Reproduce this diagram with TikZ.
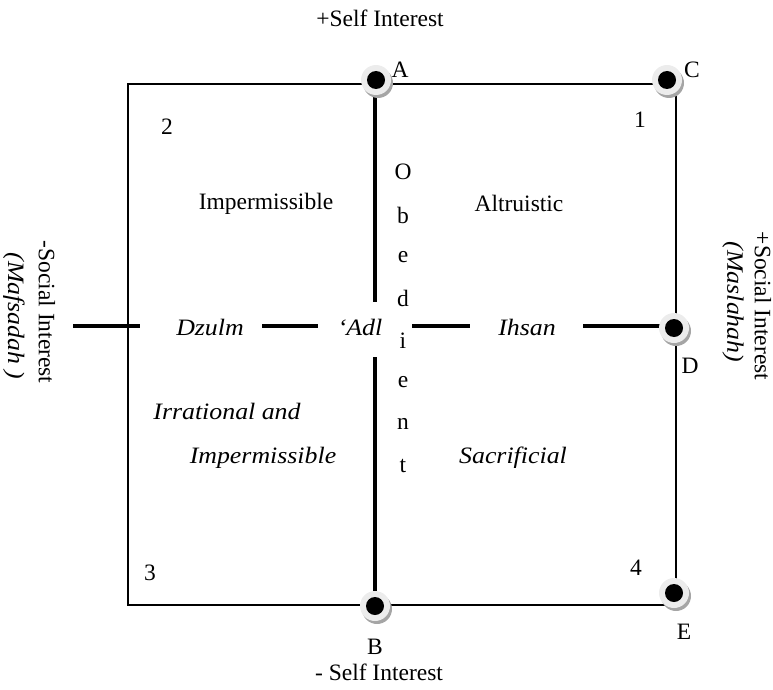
\documentclass[tikz,border=0pt]{standalone}
\usepackage{fontspec}
\setmainfont{Liberation Serif}
\newfontfamily\itfam[FakeStretch=1.1]{Liberation Serif Italic}
\usetikzlibrary{shadows}
\newcommand{\fsz}{\fontsize{23.5}{27}\selectfont}
\definecolor{ringc}{RGB}{236,236,236}
\definecolor{shadc}{RGB}{165,165,165}
\tikzset{
  boxline/.style={line width=1.4pt, draw=black},
  heavy/.style={line width=3.6pt, draw=black},
  txt/.style={font=\fsz, inner sep=0pt},
  itxt/.style={font=\fsz\itfam, inner sep=0pt},
  dotmark/.style={circle, fill=ringc, minimum size=30pt, inner sep=0pt,
    drop shadow={shadow xshift=2pt, shadow yshift=-3pt, fill=shadc, opacity=1},
    path picture={\fill[black] (path picture bounding box.center) circle (9pt);}},
}
\begin{document}
\begin{tikzpicture}[x=1pt,y=-1pt]
\useasboundingbox (0,0) rectangle (773,690);
% frame
\coordinate (tl) at (128,84);
\coordinate (br) at (676,605);
\draw[boxline] (tl) rectangle (br);
% anchor points for lines
\coordinate (vA) at (375,84);
\coordinate (vtop) at (375,302);
\coordinate (vbot) at (375,357);
\coordinate (vB) at (375,605);
\coordinate (h0) at (73,326);
\coordinate (h1) at (140,326);
\coordinate (h2) at (262,326);
\coordinate (h3) at (318,326);
\coordinate (h4) at (412,326);
\coordinate (h5) at (470,326);
\coordinate (h6) at (583,326);
\coordinate (h7) at (674,326);
\draw[heavy] (vA) -- (vtop);
\draw[heavy] (vbot) -- (vB);
\draw[heavy] (h0) -- (h1);
\draw[heavy] (h2) -- (h3);
\draw[heavy] (h4) -- (h5);
\draw[heavy] (h6) -- (h7);
% dots
\node[dotmark] (A) at (376,80) {};
\node[dotmark] (C) at (667,80) {};
\node[dotmark] (D) at (674,328) {};
\node[dotmark] (E) at (674,593) {};
\node[dotmark] (B) at (375,606) {};
% point labels
\node[txt] (lA) at (400,70) {A};
\node[txt] (lC) at (692,70) {C};
\node[txt] (lD) at (690,366) {D};
\node[txt] (lE) at (684,632) {E};
\node[txt] (lB) at (375,647) {B};
% axis labels
\node[txt] (top) at (380,18) {+Self Interest};
\node[txt] (bot) at (379,672) {- Self Interest};
\node[txt, rotate=-90] (lsoc) at (47,312) {-Social Interest};
\node[itxt, rotate=-90] (lmaf) at (14,316) {(Mafsadah )};
\node[txt, rotate=-90] (rsoc) at (763,306) {+Social Interest};
\node[itxt, rotate=-90] (rmas) at (733,302) {(Maslahah)};
% quadrant numbers
\node[txt] (n2) at (167,127) {2};
\node[txt] (n1) at (640,120) {1};
\node[txt] (n3) at (150,573) {3};
\node[txt] (n4) at (636,568) {4};
% quadrant texts
\node[txt] (imp) at (266,204) {Impermissible};
\node[txt] (alt) at (519,203) {Altruistic};
\node[itxt] (dz) at (210,327) {Dzulm};
\node[itxt] (adl) at (360,327) {‘Adl};
\node[itxt] (ih) at (527,327) {Ihsan};
\node[itxt] (irr) at (227,411) {Irrational and};
\node[itxt] (imp2) at (263,458) {Impermissible};
\node[itxt] (sac) at (513,458) {Sacrificial};
% obedient
\node[txt] (o1) at (403,172) {O};
\node[txt] (o2) at (403,215) {b};
\node[txt] (o3) at (403,257) {e};
\node[txt] (o4) at (403,298) {d};
\node[txt] (o5) at (403,341) {i};
\node[txt] (o6) at (403,382) {e};
\node[txt] (o7) at (403,424) {n};
\node[txt] (o8) at (403,466) {t};
\end{tikzpicture}
\end{document}
